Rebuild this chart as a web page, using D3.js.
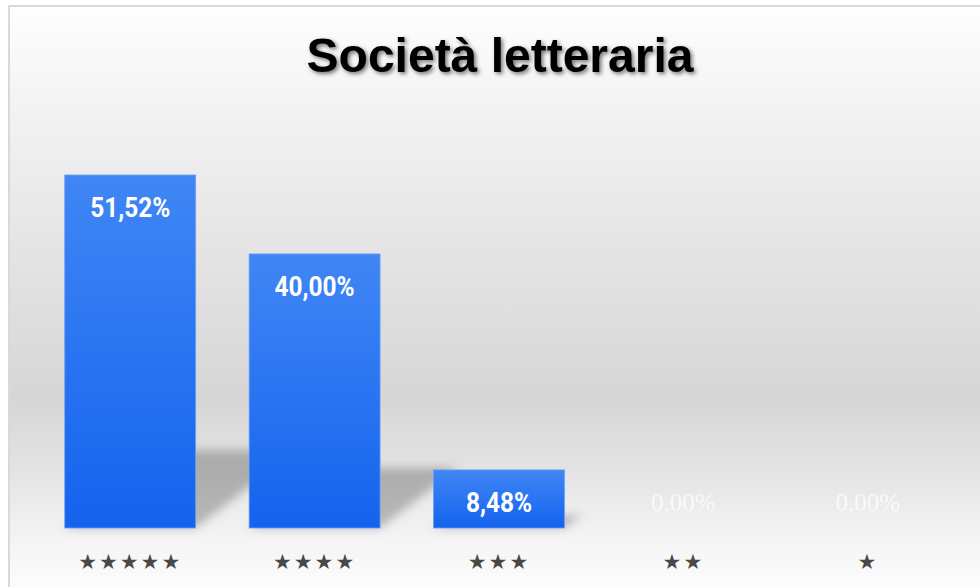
<!DOCTYPE html>
<html>
<head>
<meta charset="utf-8">
<script src="https://cdn.jsdelivr.net/npm/d3@7"></script>
<style>
  html, body { margin: 0; padding: 0; background: #fff; }
  svg { display: block; }
</style>
</head>
<body>
<div id="chart"></div>
<script>
var title = "Società letteraria";
var categories = ["★★★★★", "★★★★", "★★★", "★★", "★"];
var values = [51.52, 40.00, 8.48, 0.00, 0.00];

var W = 980, H = 587;
var baseY = 528;

var svg = d3.select("#chart").append("svg")
    .attr("width", W)
    .attr("height", H);

var defs = svg.append("defs");

// panel background: light at top, grey band low down, light again at bottom
var bg = defs.append("linearGradient")
    .attr("id", "bg")
    .attr("x1", 0).attr("y1", 0).attr("x2", 0).attr("y2", 1);
[[0, "#fefefe"], [0.17, "#f3f3f3"], [0.44, "#e3e3e3"], [0.67, "#d6d6d6"],
 [0.8, "#e4e4e4"], [0.92, "#f5f5f5"], [1, "#fdfdfd"]].forEach(function(s) {
    bg.append("stop").attr("offset", s[0]).attr("stop-color", s[1]);
});

var barGrad = defs.append("linearGradient")
    .attr("id", "barGrad")
    .attr("x1", 0).attr("y1", 0).attr("x2", 0).attr("y2", 1);
barGrad.append("stop").attr("offset", 0).attr("stop-color", "#4086f5");
barGrad.append("stop").attr("offset", 1).attr("stop-color", "#1463ee");

defs.append("filter")
    .attr("id", "blur")
    .attr("x", "-50%").attr("y", "-50%").attr("width", "200%").attr("height", "200%")
    .append("feGaussianBlur").attr("stdDeviation", 5);

var ts = defs.append("filter")
    .attr("id", "titleShadow")
    .attr("x", "-10%").attr("y", "-30%").attr("width", "120%").attr("height", "160%");
ts.append("feDropShadow")
    .attr("dx", 2).attr("dy", 2)
    .attr("stdDeviation", 2)
    .attr("flood-color", "#000")
    .attr("flood-opacity", 0.55);

svg.append("rect")
    .attr("x", 8).attr("y", 5)
    .attr("width", W).attr("height", H)
    .attr("fill", "url(#bg)");

svg.append("path")
    .attr("d", "M9,587 V6 H980")
    .attr("fill", "none")
    .attr("stroke", "#d9d9d9")
    .attr("stroke-width", 2);

var x = d3.scaleBand()
    .domain(categories)
    .range([38, 960])
    .paddingInner(0.29)
    .paddingOuter(0.145);

var y = d3.scaleLinear()
    .domain([0, d3.max(values)])
    .range([baseY, 175]);

var data = categories.map(function(c, i) { return {cat: c, val: values[i]}; });

// skewed floor shadows behind the bars
svg.append("g")
    .attr("filter", "url(#blur)")
    .selectAll("path")
    .data(data.filter(function(d) { return d.val > 0; }))
    .enter().append("path")
    .attr("fill", "#000")
    .attr("fill-opacity", 0.24)
    .attr("d", function(d) {
        var x0 = x(d.cat), x1 = x0 + x.bandwidth();
        var h = (baseY - y(d.val)) * 0.22;
        var dx = h * 1.3;
        return "M" + x0 + "," + baseY + "L" + x1 + "," + baseY +
            "L" + (x1 + dx) + "," + (baseY - h) + "L" + (x0 + dx) + "," + (baseY - h) + "Z";
    });

svg.append("g")
    .selectAll("rect")
    .data(data)
    .enter().append("rect")
    .attr("x", function(d) { return x(d.cat); })
    .attr("y", function(d) { return y(d.val); })
    .attr("width", x.bandwidth())
    .attr("height", function(d) { return baseY - y(d.val); })
    .attr("fill", "url(#barGrad)")
    .attr("stroke", "#6b9ff5")
    .attr("stroke-width", 0.8)
    .attr("stroke-opacity", function(d) { return d.val > 0 ? 1 : 0; });

function fmt(v) { return v.toFixed(2).replace(".", ",") + "%"; }

svg.append("g")
    .selectAll("text")
    .data(data)
    .enter().append("text")
    .attr("transform", function(d) {
        var cx = x(d.cat) + x.bandwidth() / 2;
        var cy = Math.min(y(d.val) + 32, baseY - 26);
        return "translate(" + cx + "," + cy + ")" + (d.val > 0 ? " scale(0.94,1.08)" : "");
    })
    .attr("dy", "0.35em")
    .attr("text-anchor", "middle")
    .attr("fill", "#fff")
    .attr("fill-opacity", function(d) { return d.val > 0 ? 1 : 0.75; })
    .style("font-family", function(d) {
        return d.val > 0 ? "'Liberation Sans Narrow', 'Arial Narrow', Roboto, sans-serif"
                         : "'Liberation Serif', serif";
    })
    .style("font-weight", function(d) { return d.val > 0 ? "bold" : "normal"; })
    .style("font-size", function(d) { return d.val > 0 ? "26px" : "25px"; })
    .text(function(d) { return fmt(d.val); });

// star category labels
svg.append("g")
    .selectAll("text")
    .data(categories)
    .enter().append("text")
    .attr("x", function(d) { return x(d) + x.bandwidth() / 2; })
    .attr("y", 562)
    .attr("dy", "0.35em")
    .attr("text-anchor", "middle")
    .attr("fill", "#484848")
    .style("font-family", "'DejaVu Sans', sans-serif")
    .style("font-size", "21px")
    .style("letter-spacing", "2px")
    .text(function(d) { return d; });

svg.append("text")
    .attr("x", 500)
    .attr("y", 72)
    .attr("text-anchor", "middle")
    .attr("fill", "#000")
    .attr("filter", "url(#titleShadow)")
    .style("font-family", "'Liberation Sans', Arial, sans-serif")
    .style("font-weight", "bold")
    .style("font-size", "48px")
    .text(title);
</script>
</body>
</html>
